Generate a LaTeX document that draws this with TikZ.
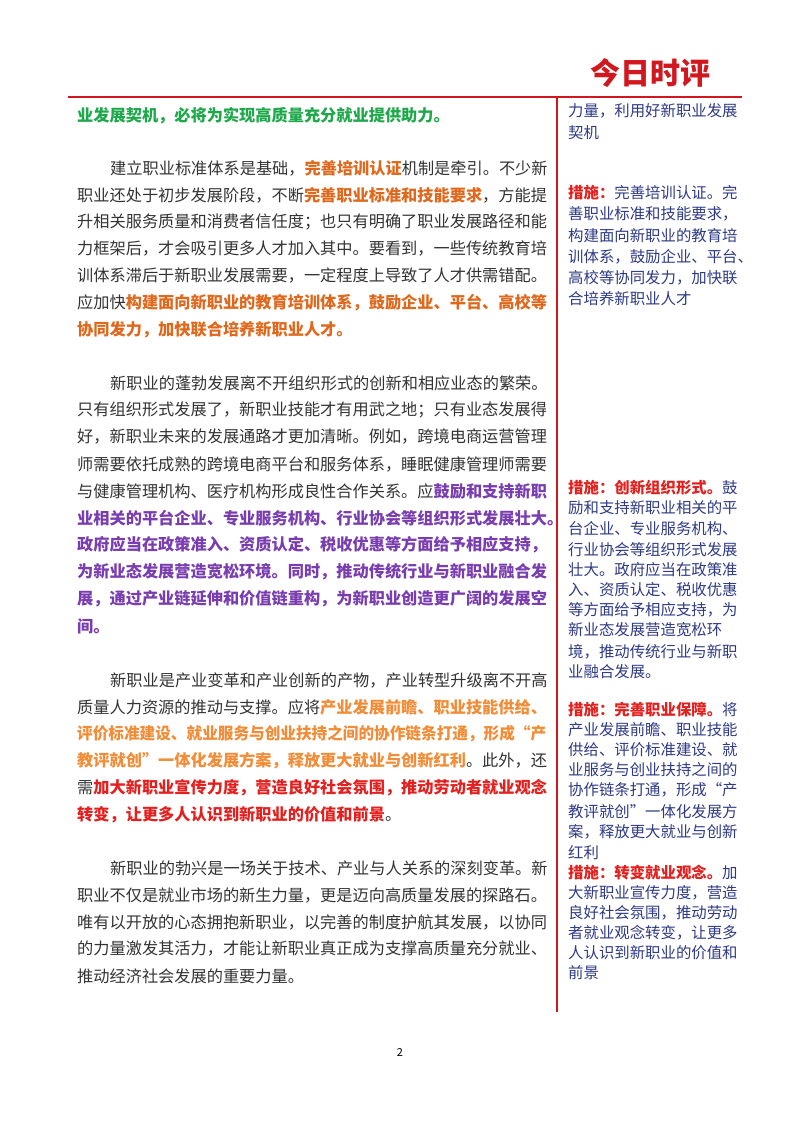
\documentclass[tikz,border=0pt]{standalone}
\usepackage{fontspec}
\setmainfont{Noto Sans CJK SC}
\definecolor{gr}{HTML}{1DA84A}
\definecolor{orA}{HTML}{E0681C}
\definecolor{orB}{HTML}{F28C36}
\definecolor{pu}{HTML}{7A3DB0}
\definecolor{rd}{HTML}{E3201E}
\definecolor{bl}{HTML}{2E3A85}
\definecolor{tx}{HTML}{333333}
\definecolor{rl}{HTML}{D0181E}
\newcommand\hlA[1]{\textcolor{orA}{\bfseries #1}}
\newcommand\hlB[1]{\textcolor{orB}{\bfseries #1}}
\newcommand\hlP[1]{\textcolor{pu}{\bfseries #1}}
\newcommand\hlR[1]{\textcolor{rd}{\bfseries #1}}
\newcommand\hlG[1]{\textcolor{gr}{\bfseries #1}}
\newcommand\cs[1]{\textcolor{rd}{\bfseries #1}}
\begin{document}
\begin{tikzpicture}[x=1pt,y=-1pt,
  lt/.style={anchor=west,inner sep=0pt,text=tx,font=\fontsize{16.2}{17}\selectfont},
  rt/.style={anchor=west,inner sep=0pt,text=bl,font=\fontsize{15.4}{16}\selectfont}]
\useasboundingbox (0,0) rectangle (800,1132);
\fill[white] (0,0) rectangle (800,1132);
\node[text=rl,font=\fontsize{30}{30}\selectfont\bfseries,inner sep=0pt] (logo) at (650,73) {今日时评};
\draw[rl,line width=2.5pt] (68,97) -- (742,97);
\draw[rl,line width=2.5pt] (557,97) -- (557,1012);
% left column
\node[lt] (l1) at (77,116) {\hlG{业发展契机，必将为实现高质量充分就业提供助力。}};
\foreach \y/\xx/\t in {
 168/110/{建立职业标准体系是基础，\hlA{完善培训认证}机制是牵引。不少新},
 195/77/{职业还处于初步发展阶段，不断\hlA{完善职业标准和技能要求}，方能提},
 222/77/{升相关服务质量和消费者信任度；也只有明确了职业发展路径和能},
 249/77/{力框架后，才会吸引更多人才加入其中。要看到，一些传统教育培},
 276/77/{训体系滞后于新职业发展需要，一定程度上导致了人才供需错配。},
 303/77/{应加快\hlA{构建面向新职业的教育培训体系，鼓励企业、平台、高校等}},
 330/77/{\hlA{协同发力，加快联合培养新职业人才。}},
 383/110/{新职业的蓬勃发展离不开组织形式的创新和相应业态的繁荣。},
 410/77/{只有组织形式发展了，新职业技能才有用武之地；只有业态发展得},
 437/77/{好，新职业未来的发展通路才更加清晰。例如，跨境电商运营管理},
 464/77/{师需要依托成熟的跨境电商平台和服务体系，睡眠健康管理师需要},
 491/77/{与健康管理机构、医疗机构形成良性合作关系。应\hlP{鼓励和支持新职}},
 518/77/{\hlP{业相关的平台企业、专业服务机构、行业协会等组织形式发展壮大。}},
 545/77/{\hlP{政府应当在政策准入、资质认定、税收优惠等方面给予相应支持，}},
 572/77/{\hlP{为新业态发展营造宽松环境。同时，推动传统行业与新职业融合发}},
 599/77/{\hlP{展，通过产业链延伸和价值链重构，为新职业创造更广阔的发展空}},
 626/77/{\hlP{间。}},
 680/110/{新职业是产业变革和产业创新的产物，产业转型升级离不开高},
 707/77/{质量人力资源的推动与支撑。应将\hlB{产业发展前瞻、职业技能供给、}},
 761/77/{\hlB{教评就创”一体化发展方案，释放更大就业与创新红利}。此外，还},
 788/77/{需\hlR{加大新职业宣传力度，营造良好社会氛围，推动劳动者就业观念}},
 815/77/{\hlR{转变，让更多人认识到新职业的价值和前景}。},
 868/110/{新职业的勃兴是一场关于技术、产业与人关系的深刻变革。新},
 895/77/{职业不仅是就业市场的新生力量，更是迈向高质量发展的探路石。},
 922/77/{唯有以开放的心态拥抱新职业，以完善的制度护航其发展，以协同},
 949/77/{的力量激发其活力，才能让新职业真正成为支撑高质量充分就业、},
 976/77/{推动经济社会发展的重要力量。}}
 {\node[lt] at (\xx,\y) {\t};}
\node[lt,xscale=0.965,transform shape] (l734) at (77,734) {\hlB{评价标准建设、就业服务与创业扶持之间的协作链条打通，形成“产}};
% right column
\foreach \y/\t in {
 111/{力量，利用好新职业发展},
 133/{契机},
 193/{\cs{措施：}完善培训认证。完},
 214/{善职业标准和技能要求，},
 236/{构建面向新职业的教育培},
 257/{训体系，鼓励企业、平台、},
 278/{高校等协同发力，加快联},
 299/{合培养新职业人才},
 488/{\cs{措施：创新组织形式。}鼓},
 508/{励和支持新职业相关的平},
 529/{台企业、专业服务机构、},
 550/{行业协会等组织形式发展},
 570/{壮大。政府应当在政策准},
 590/{入、资质认定、税收优惠},
 610/{等方面给予相应支持，为},
 630/{新业态发展营造宽松环},
 652/{境，推动传统行业与新职},
 672/{业融合发展。},
 710/{\cs{措施：完善职业保障。}将},
 730/{产业发展前瞻、职业技能},
 750/{供给、评价标准建设、就},
 770/{业服务与创业扶持之间的},
 790/{协作链条打通，形成“产},
 812/{教评就创”一体化发展方},
 832/{案，释放更大就业与创新},
 853/{红利},
 873/{\cs{措施：转变就业观念。}加},
 893/{大新职业宣传力度，营造},
 913/{良好社会氛围，推动劳动},
 933/{者就业观念转变，让更多},
 953/{人认识到新职业的价值和},
 973/{前景}}
 {\node[rt] at (568,\y) {\t};}
\node[inner sep=0pt,font=\fontsize{11}{11}\selectfont] (pg) at (400,1052) {2};
\end{tikzpicture}
\end{document}
